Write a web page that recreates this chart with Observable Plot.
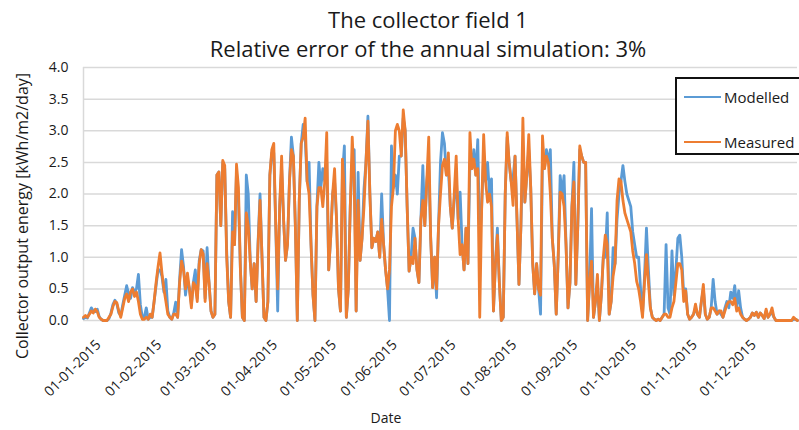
<!DOCTYPE html>
<html><head><meta charset="utf-8">
<script src="https://cdn.jsdelivr.net/npm/d3@7"></script>
<script src="https://cdn.jsdelivr.net/npm/@observablehq/plot@0.6"></script>
<style>
body{margin:0;background:#fff;font-family:"Open Sans",sans-serif;}
#wrap{position:relative;width:799px;height:430px;overflow:hidden;}
.t{position:absolute;left:0;width:856px;text-align:center;font-size:22px;line-height:30px;color:#1a1a1a;}
#ylab{position:absolute;left:22px;top:216px;transform:translate(-50%,-50%) rotate(-90deg);white-space:nowrap;font-size:16px;color:#1a1a1a;}
#xlab{position:absolute;left:386px;top:408px;transform:translateX(-50%);font-size:14px;color:#1a1a1a;}
#legend{position:absolute;left:675px;top:77px;width:140px;height:78px;border:2px solid #111;box-sizing:border-box;background:#fff;font-size:15px;color:#1a1a1a;}
.li{position:absolute;left:7px;display:flex;align-items:center;height:20px;}
.sw{width:37px;height:2px;margin-right:3px;}
</style></head>
<body><div id="wrap">
<div class="t" style="top:4px">The collector field 1</div>
<div class="t" style="top:33px">Relative error of the annual simulation: 3%</div>
<div id="ylab">Collector output energy [kWh/m2/day]</div>
<div id="xlab">Date</div>
</div>
<script>
const seriesNames = ["Modelled", "Measured"];
const seriesColors = ["#5B9BD5", "#ED7D31"];
const yTicks = [0, 0.5, 1, 1.5, 2, 2.5, 3, 3.5, 4];
const monthTicks = ["2015-01-01","2015-02-01","2015-03-01","2015-04-01","2015-05-01","2015-06-01","2015-07-01","2015-08-01","2015-09-01","2015-10-01","2015-11-01","2015-12-01"];
const startDate = "2015-01-01";

// daily values, 1 Jan 2015 .. 31 Dec 2015 (kWh/m2/day)
const modelled = [
// Jan
0.03,0.05,0.04,0.12,0.20,0.15,0.14,0.18,0.06,0.02,0.00,0.00,0.00,0.03,0.12,0.25,0.32,0.26,0.12,0.08,0.25,0.40,0.55,0.42,0.35,0.52,0.45,0.50,0.73,0.25,0.05,
// Feb
0.05,0.20,0.02,0.05,0.05,0.30,0.55,0.80,0.80,0.70,0.45,0.65,0.15,0.05,0.02,0.12,0.29,0.05,0.65,1.12,0.85,0.40,0.65,0.50,0.25,0.60,0.80,0.35,
// Mar
0.95,1.12,1.10,0.35,1.15,0.60,0.15,0.05,0.10,2.30,2.35,1.50,2.50,2.40,1.10,0.30,0.05,1.72,1.20,2.35,1.90,0.80,0.05,0.00,2.30,2.00,0.94,0.50,0.90,0.30,1.25,
// Apr
2.00,1.00,0.05,0.00,0.30,2.30,2.65,2.65,1.50,0.15,1.80,2.40,1.60,0.95,1.20,2.20,2.90,2.60,1.50,0.00,1.90,2.80,3.10,2.90,2.20,2.50,1.20,0.40,0.00,1.80,
// May
2.50,2.10,2.40,2.20,2.50,0.80,1.30,2.00,2.20,1.60,0.50,0.15,2.30,2.76,0.05,0.50,1.80,2.50,2.70,0.15,2.34,0.95,1.30,2.08,2.50,3.23,2.00,1.15,1.30,1.25,1.40,
// Jun
1.00,2.00,1.20,0.80,0.50,0.00,2.76,2.10,2.30,2.00,2.60,2.60,3.20,3.00,1.80,0.78,1.00,1.46,1.30,0.80,0.60,1.60,2.45,1.50,2.20,2.50,1.30,0.52,1.00,0.36,
// Jul
1.50,2.50,2.97,2.80,2.30,2.40,1.80,1.46,1.90,2.30,1.60,2.03,1.20,0.80,1.46,0.90,2.50,2.40,2.70,2.30,2.86,1.20,1.80,2.60,2.20,2.50,2.00,2.24,0.15,0.90,1.46,
// Aug
0.60,0.00,0.05,2.00,2.90,2.50,2.20,2.25,2.60,1.60,0.57,1.50,2.70,1.87,2.30,2.70,2.10,0.90,0.42,0.90,0.50,0.10,2.60,2.40,2.70,2.50,2.70,1.30,0.88,0.10,1.00,
// Sep
2.29,2.00,2.29,1.20,0.20,0.60,1.80,2.50,0.57,1.50,2.70,2.60,2.50,2.50,0.00,0.60,1.77,0.05,0.30,0.60,0.00,0.40,1.00,1.00,1.70,0.10,0.30,1.15,0.90,1.60,
// Oct
2.00,2.20,2.45,2.20,2.00,1.90,1.80,1.40,1.20,1.00,1.00,0.50,0.10,0.70,1.46,0.80,0.20,0.05,0.02,0.00,0.02,0.00,0.05,0.10,1.20,0.20,0.10,1.10,0.40,0.80,1.30,
// Nov
1.35,1.00,0.40,0.50,0.10,0.02,0.05,0.10,0.20,0.10,0.05,0.30,0.50,0.10,0.02,0.05,0.20,0.65,0.30,0.10,0.15,0.10,0.05,0.20,0.30,0.20,0.45,0.35,0.55,0.20,
// Dec
0.47,0.20,0.05,0.02,0.00,0.02,0.05,0.12,0.08,0.13,0.05,0.12,0.08,0.03,0.15,0.05,0.10,0.12,0.05,0.00,0.00,0.00,0.00,0.00,0.00,0.00,0.00,0.00,0.02,0.02,0.00
];
const measured = [
// Jan
0.05,0.08,0.05,0.10,0.15,0.12,0.18,0.14,0.05,0.02,0.00,0.00,0.00,0.05,0.10,0.22,0.30,0.28,0.15,0.05,0.20,0.35,0.42,0.30,0.45,0.50,0.38,0.45,0.30,0.10,0.02,
// Feb
0.02,0.05,0.02,0.10,0.05,0.30,0.60,0.85,1.07,0.75,0.50,0.30,0.10,0.05,0.02,0.10,0.10,0.05,0.60,0.94,0.80,0.50,0.75,0.50,0.20,0.60,0.55,0.30,
// Mar
0.90,1.12,1.05,0.30,0.90,0.60,0.15,0.05,0.10,2.30,2.35,1.50,2.53,2.45,1.00,0.30,0.05,1.40,1.20,2.47,2.10,0.80,0.05,0.00,1.70,1.50,0.94,0.50,0.90,0.30,1.20,
// Apr
1.90,1.00,0.05,0.00,0.30,2.30,2.70,2.80,1.50,0.50,1.80,2.60,1.60,0.95,1.20,2.20,2.70,2.60,1.50,0.00,1.90,2.80,2.90,3.20,2.20,2.00,1.20,0.40,0.00,1.80,
// May
2.10,2.10,1.80,2.20,2.97,0.80,1.30,2.00,2.40,1.60,0.50,0.15,2.55,2.00,0.05,0.50,1.80,2.90,2.20,0.15,1.90,0.95,1.30,1.80,2.50,3.15,2.00,1.15,1.30,1.25,1.40,
// Jun
1.00,1.60,1.20,0.80,0.50,0.80,1.80,2.10,3.00,3.10,3.00,2.60,3.33,3.00,1.80,0.78,1.00,0.90,1.30,0.80,0.60,1.60,1.90,1.50,2.20,2.90,1.30,0.52,1.00,0.50,
// Jul
1.50,2.00,2.45,2.55,2.30,2.65,1.80,1.46,2.00,2.60,1.60,1.04,1.20,0.80,1.46,0.90,2.97,2.40,2.55,2.30,2.40,0.05,1.80,2.94,2.20,1.87,2.00,1.80,0.15,0.90,1.35,
// Aug
0.60,0.00,0.05,2.00,2.97,2.50,2.20,1.82,2.60,1.60,0.57,1.50,3.20,1.87,2.30,2.94,2.10,0.90,0.42,0.90,0.50,0.40,2.92,2.40,2.60,2.50,2.00,1.30,0.88,0.10,1.00,
// Sep
2.03,2.00,1.80,1.20,0.20,0.60,1.80,2.19,0.57,1.50,2.76,2.60,2.50,2.50,0.00,0.60,0.94,0.05,0.30,0.73,0.00,0.40,1.00,1.35,1.20,0.10,0.30,0.70,0.90,1.90,
// Oct
2.24,2.20,1.90,1.70,1.60,1.50,1.40,1.10,0.90,0.62,0.50,0.30,0.05,0.60,1.04,0.60,0.20,0.05,0.02,0.00,0.02,0.00,0.05,0.10,0.10,0.05,0.05,0.20,0.30,0.60,0.90,
// Nov
0.90,0.80,0.30,0.47,0.10,0.02,0.05,0.10,0.26,0.10,0.05,0.30,0.57,0.10,0.02,0.05,0.20,0.20,0.15,0.10,0.15,0.15,0.05,0.15,0.25,0.30,0.30,0.25,0.35,0.15,
// Dec
0.20,0.10,0.05,0.02,0.00,0.02,0.05,0.12,0.08,0.13,0.05,0.12,0.08,0.03,0.18,0.05,0.10,0.20,0.05,0.00,0.00,0.00,0.00,0.00,0.00,0.00,0.00,0.00,0.05,0.02,0.00
];

const day0 = new Date(startDate);
const toDate = i => new Date(day0.getTime() + i * 86400000);
const rows = [];
[modelled, measured].forEach((arr, s) => arr.forEach((v, i) => rows.push({date: toDate(i), value: v, series: seriesNames[s]})));

const chart = Plot.plot({
  width: 799, height: 430,
  marginLeft: 83, marginRight: 2, marginTop: 67, marginBottom: 110,
  style: {fontFamily: "Open Sans, sans-serif", fontSize: "14px", color: "#1a1a1a", background: "transparent"},
  x: {type: "utc", domain: [toDate(0), toDate(modelled.length - 1)]},
  y: {domain: [0, 4]},
  color: {domain: seriesNames, range: seriesColors},
  marks: [
    Plot.gridY(yTicks, {stroke: "#d9d9d9", strokeOpacity: 1, strokeWidth: 1.5}),
    Plot.ruleX([toDate(0)], {stroke: "#d9d9d9", strokeWidth: 1.5}),
    Plot.axisY(yTicks, {tickFormat: d3.format(".1f"), tickSize: 0, tickPadding: 15, label: null, fontSize: 14}),
    Plot.axisX(monthTicks.map(d => new Date(d)), {tickFormat: d3.utcFormat("%d-%m-%Y"), tickSize: 0, tickRotate: -45, tickPadding: 0, label: null, fontSize: 14, dx: 15, dy: 22}),
    Plot.line(rows, {x: "date", y: "value", z: "series", stroke: "series", strokeWidth: 2.8, curve: "linear"})
  ]
});
const wrap = document.getElementById("wrap");
chart.style.position = "absolute"; chart.style.left = "0"; chart.style.top = "0";
wrap.insertBefore(chart, wrap.firstChild);

const lg = document.createElement("div");
lg.id = "legend";
seriesNames.forEach((n, i) => {
  const it = document.createElement("div");
  it.className = "li";
  it.style.top = (i === 0 ? 8 : 53) + "px";
  it.innerHTML = `<span class="sw" style="background:${seriesColors[i]}"></span><span>${n}</span>`;
  lg.appendChild(it);
});
wrap.appendChild(lg);
</script>
</body></html>
